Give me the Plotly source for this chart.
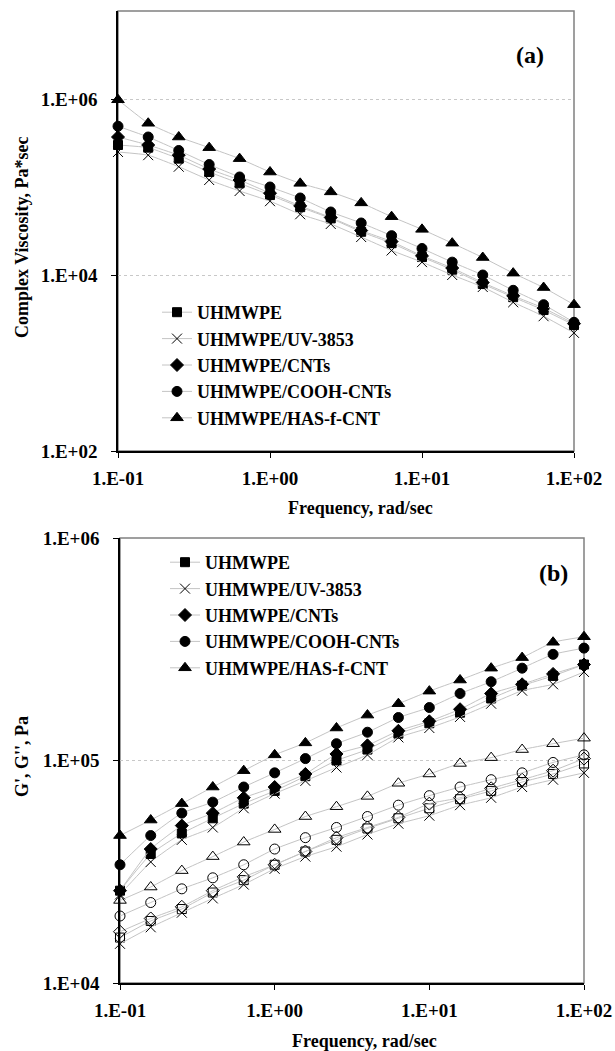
import plotly.graph_objects as go

# ---------------- data ----------------
freq = [0.1, 0.158, 0.251, 0.398, 0.631, 1.0, 1.58, 2.51, 3.98, 6.31, 10.0, 15.8, 25.1, 39.8, 63.1, 100.0]

names = ["UHMWPE", "UHMWPE/UV-3853", "UHMWPE/CNTs", "UHMWPE/COOH-CNTs", "UHMWPE/HAS-f-CNT"]

# (a) complex viscosity, Pa*sec
uhmwpe_visc = [3.0e5, 2.8e5, 2.1e5, 1.48e5, 1.1e5, 8.1e4, 5.9e4, 4.4e4, 3.1e4, 2.3e4, 1.6e4, 1.15e4, 7.9e3, 5.6e3, 4.0e3, 2.7e3]
uv_visc = [2.5e5, 2.3e5, 1.7e5, 1.2e5, 9.0e4, 6.9e4, 4.9e4, 3.8e4, 2.7e4, 1.9e4, 1.4e4, 1.0e4, 7.3e3, 4.9e3, 3.4e3, 2.2e3]
cnts_visc = [3.7e5, 3.0e5, 2.3e5, 1.6e5, 1.2e5, 8.5e4, 6.1e4, 4.5e4, 3.2e4, 2.4e4, 1.65e4, 1.2e4, 8.2e3, 5.8e3, 4.2e3, 2.8e3]
cooh_visc = [4.9e5, 3.7e5, 2.6e5, 1.8e5, 1.3e5, 1.0e5, 7.5e4, 5.2e4, 3.9e4, 2.8e4, 2.0e4, 1.4e4, 1.0e4, 6.7e3, 4.6e3, 2.9e3]
has_visc = [9.8e5, 5.3e5, 3.7e5, 2.8e5, 2.1e5, 1.48e5, 1.1e5, 8.8e4, 6.6e4, 4.6e4, 3.3e4, 2.3e4, 1.58e4, 1.05e4, 7.2e3, 4.6e3]

# (b) storage modulus G' (filled markers), Pa
uhmwpe_g1 = [2.6e4, 3.8e4, 4.7e4, 5.5e4, 6.4e4, 7.3e4, 8.5e4, 1.0e5, 1.12e5, 1.32e5, 1.47e5, 1.64e5, 1.9e5, 2.17e5, 2.4e5, 2.7e5]
uv_g1 = [2.5e4, 3.5e4, 4.4e4, 5.0e4, 6.1e4, 7.1e4, 8.1e4, 9.3e4, 1.06e5, 1.27e5, 1.4e5, 1.57e5, 1.8e5, 2.06e5, 2.2e5, 2.5e5]
cnts_g1 = [2.6e4, 4.0e4, 5.1e4, 5.8e4, 6.8e4, 7.6e4, 8.7e4, 1.07e5, 1.17e5, 1.36e5, 1.5e5, 1.7e5, 2.0e5, 2.2e5, 2.45e5, 2.7e5]
cooh_g1 = [3.4e4, 4.6e4, 5.8e4, 6.5e4, 7.6e4, 8.8e4, 1.02e5, 1.19e5, 1.34e5, 1.56e5, 1.73e5, 2.0e5, 2.26e5, 2.6e5, 3.0e5, 3.2e5]
has_g1 = [4.6e4, 5.4e4, 6.4e4, 7.6e4, 9.0e4, 1.06e5, 1.2e5, 1.4e5, 1.6e5, 1.8e5, 2.05e5, 2.3e5, 2.6e5, 2.9e5, 3.4e5, 3.6e5]

# (b) loss modulus G'' (open markers), Pa
uhmwpe_g2 = [1.6e4, 1.9e4, 2.15e4, 2.55e4, 2.9e4, 3.4e4, 3.9e4, 4.4e4, 4.95e4, 5.5e4, 6.1e4, 6.7e4, 7.3e4, 8.0e4, 8.7e4, 9.7e4]
uv_g2 = [1.5e4, 1.78e4, 2.07e4, 2.4e4, 2.77e4, 3.26e4, 3.7e4, 4.1e4, 4.65e4, 5.2e4, 5.65e4, 6.3e4, 6.8e4, 7.6e4, 8.2e4, 8.8e4]
cnts_g2 = [1.7e4, 1.95e4, 2.2e4, 2.6e4, 3.0e4, 3.4e4, 3.9e4, 4.5e4, 5.0e4, 5.55e4, 6.4e4, 6.8e4, 7.5e4, 8.2e4, 9.0e4, 1.02e5]
cooh_g2 = [2.0e4, 2.3e4, 2.65e4, 2.97e4, 3.4e4, 4.0e4, 4.5e4, 5.0e4, 5.6e4, 6.3e4, 6.95e4, 7.6e4, 8.2e4, 8.8e4, 9.8e4, 1.06e5]
has_g2 = [2.35e4, 2.7e4, 3.2e4, 3.7e4, 4.3e4, 4.9e4, 5.6e4, 6.2e4, 6.9e4, 7.9e4, 8.7e4, 9.7e4, 1.03e5, 1.12e5, 1.19e5, 1.26e5]

x_tickvals = [0.1, 1, 10, 100]
x_ticktext = ["1.E-01", "1.E+00", "1.E+01", "1.E+02"]
ya_tickvals = [1e2, 1e4, 1e6]
ya_ticktext = ["1.E+02", "1.E+04", "1.E+06"]
yb_tickvals = [1e4, 1e5, 1e6]
yb_ticktext = ["1.E+04", "1.E+05", "1.E+06"]

# ---------------- styling ----------------
FONT = "Liberation Serif"
LINE = dict(color="#c4c4c4", width=1, shape="spline", smoothing=0.4)
filled = ["square", "x-thin-open", "diamond", "circle", "triangle-up"]
opened = ["square-open", "x-thin-open", "diamond-open", "circle-open", "triangle-up-open"]
sizes = [9, 10, 10, 10, 11]

fig = go.Figure()

visc = [uhmwpe_visc, uv_visc, cnts_visc, cooh_visc, has_visc]
g1 = [uhmwpe_g1, uv_g1, cnts_g1, cooh_g1, has_g1]
g2 = [uhmwpe_g2, uv_g2, cnts_g2, cooh_g2, has_g2]

for i, (nm, ys) in enumerate(zip(names, visc)):
    fig.add_trace(go.Scatter(
        x=freq, y=ys, name="<b>%s</b>" % nm, mode="lines+markers", line=LINE,
        marker=dict(symbol=filled[i], size=sizes[i], color="black",
                    line=dict(color="black", width=1)),
        xaxis="x", yaxis="y", legend="legend", legendgroup="a%d" % i,
        cliponaxis=False))

for i, (nm, ys) in enumerate(zip(names, g2)):
    fig.add_trace(go.Scatter(
        x=freq, y=ys, name=nm + " G''", mode="lines+markers", line=LINE,
        marker=dict(symbol=opened[i], size=sizes[i], color="black",
                    line=dict(color="black", width=1)),
        xaxis="x2", yaxis="y2", showlegend=False, cliponaxis=False))

for i, (nm, ys) in enumerate(zip(names, g1)):
    fig.add_trace(go.Scatter(
        x=freq, y=ys, name="<b>%s</b>" % nm, mode="lines+markers", line=LINE,
        marker=dict(symbol=filled[i], size=sizes[i], color="black",
                    line=dict(color="black", width=1)),
        xaxis="x2", yaxis="y2", legend="legend2", legendgroup="b%d" % i,
        cliponaxis=False))

W, H = 615, 1051
def px(xp):
    return xp / W
def py(yp):
    return 1 - yp / H

tickfont = dict(family=FONT, size=19, color="black")
xcommon = dict(type="log", range=[-1, 2], tickvals=x_tickvals,
               ticktext=["<b>%s</b>" % t for t in x_ticktext],
               ticks="outside", ticklen=5, tickcolor="black", tickfont=tickfont,
               ticklabelstandoff=4,
               showline=True, linecolor="black", linewidth=1.5, showgrid=False,
               zeroline=False, mirror=False, automargin=False)
ycommon = dict(type="log", ticks="outside", ticklen=5, tickcolor="black", tickfont=tickfont,
               ticklabelstandoff=10,
               showline=True, linecolor="black", linewidth=1.5, showgrid=True,
               gridcolor="#c8c8c8", griddash="dot", gridwidth=1, zeroline=False,
               mirror=False, automargin=False)

fig.update_layout(
    width=W, height=H, margin=dict(l=0, r=0, t=0, b=0, autoexpand=False),
    paper_bgcolor="white", plot_bgcolor="white",
    xaxis=dict(domain=[px(118), px(574)], anchor="y", **xcommon),
    yaxis=dict(domain=[py(451), py(11)], anchor="x", range=[2, 7],
               tickvals=ya_tickvals, ticktext=["<b>%s</b>" % t for t in ya_ticktext],
               **ycommon),
    xaxis2=dict(domain=[px(120), px(584)], anchor="y2", **xcommon),
    yaxis2=dict(domain=[py(983), py(538)], anchor="x2", range=[4, 6],
                tickvals=yb_tickvals, ticktext=["<b>%s</b>" % t for t in yb_ticktext],
                **ycommon),
    legend=dict(x=px(157), y=py(294), xanchor="left", yanchor="top",
                bgcolor="rgba(0,0,0,0)", traceorder="grouped", tracegroupgap=0,
                font=dict(family=FONT, size=18, color="black"),
                itemwidth=30),
    legend2=dict(x=px(165), y=py(544), xanchor="left", yanchor="top",
                 bgcolor="rgba(0,0,0,0)", traceorder="grouped", tracegroupgap=0,
                 font=dict(family=FONT, size=18, color="black"),
                 itemwidth=30),
    showlegend=True,
)

# gray plot-area frames (top/right edges)
for xr, yr in [("x domain", "y domain"), ("x2 domain", "y2 domain")]:
    fig.add_shape(type="rect", xref=xr, yref=yr, x0=0, x1=1, y0=0, y1=1,
                  line=dict(color="#808080", width=1.5), layer="below")

afont = dict(family=FONT, size=18, color="black")
ann = dict(xref="paper", yref="paper", showarrow=False, xanchor="center", yanchor="middle")
fig.add_annotation(text="<b>Complex Viscosity, Pa*sec</b>", x=px(22), y=py(238),
                   textangle=-90, font=afont, **ann)
fig.add_annotation(text="<b>G', G'', Pa</b>", x=px(22), y=py(757),
                   textangle=-90, font=afont, **ann)
fig.add_annotation(text="<b>Frequency, rad/sec</b>", x=px(360), y=py(508), font=afont, **ann)
fig.add_annotation(text="<b>Frequency, rad/sec</b>", x=px(364), y=py(1041), font=afont, **ann)
lfont = dict(family=FONT, size=24, color="black")
fig.add_annotation(text="<b>(a)</b>", x=px(530), y=py(55), font=lfont, **ann)
fig.add_annotation(text="<b>(b)</b>", x=px(553), y=py(573), font=lfont, **ann)

fig.write_html("out.html")
